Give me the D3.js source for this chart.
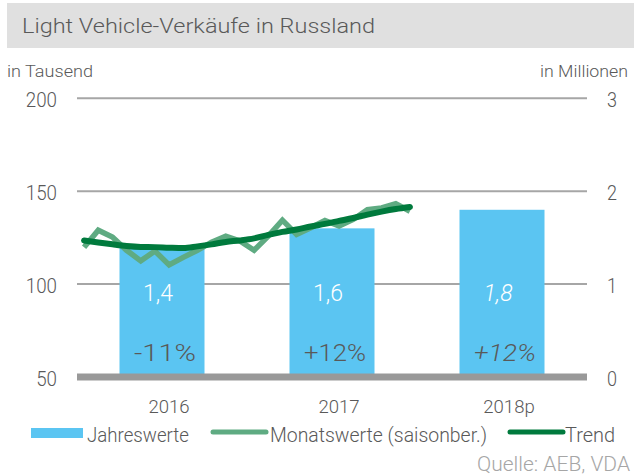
<!DOCTYPE html>
<html lang="de">
<head>
<meta charset="UTF-8">
<title>Light Vehicle-Verkäufe in Russland</title>
<style>
  body { margin: 0; background: #fff; }
  svg { display: block; font-family: Roboto, "Liberation Sans", sans-serif; font-weight: 300; }
</style>
</head>
<body>
<div id="chart"></div>
<script src="https://cdn.jsdelivr.net/npm/d3@7"></script>
<script>
// Jahreswerte (Mio.) und Veränderung
const years = ["2016", "2017", "2018p"];
const yearValues = [1.4, 1.6, 1.8];
const yearLabels = ["1,4", "1,6", "1,8"];
const changeLabels = ["-11%", "+12%", "+12%"];
const forecast = [false, false, true];

// Monatswerte saisonbereinigt (Tsd.), Jan 2016 - Dez 2017
const monthly = [119.8, 129.0, 125.3, 118.2, 112.5, 117.8, 110.3, 114.4, 118.2, 122.6, 125.8, 123.2,
                 118.2, 125.8, 134.4, 126.7, 130.3, 134.2, 131.2, 134.8, 140.1, 141.0, 143.3, 139.2];
const trend = [123.5, 122.4, 121.4, 120.5, 120.0, 119.9, 119.6, 119.4, 120.3, 121.4, 122.7, 123.5,
               124.6, 126.5, 128.1, 129.4, 131.0, 132.4, 134.0, 135.6, 137.4, 139.0, 140.4, 141.5];

const leftTicks = [50, 100, 150, 200];
const rightTicks = [0, 1, 2, 3];

const W = 635, H = 475;
const textCol = "#595959";

const svg = d3.select("#chart").append("svg")
  .attr("width", W).attr("height", H);

// Text mit fester Breite (schmale Schrift im Original)
function label(x, y, txt, size, width, anchor) {
  return svg.append("text").attr("x", x).attr("y", y)
    .attr("font-size", size).attr("fill", textCol)
    .attr("text-anchor", anchor || "start")
    .attr("textLength", width).attr("lengthAdjust", "spacingAndGlyphs")
    .text(txt);
}

// Titelbalken
svg.append("rect").attr("x", 7).attr("y", 3).attr("width", 627).attr("height", 45).attr("fill", "#e0e0e0");
label(22, 33, "Light Vehicle-Verkäufe in Russland", 21, 353);

const x0 = 77, x1 = 587;
const x = d3.scaleBand().domain(years).range([x0, x1]).paddingInner(0.5).paddingOuter(0.25);
const yL = d3.scaleLinear().domain([50, 200]).range([377, 98.3]);
const yR = d3.scaleLinear().domain([0, 3]).range([377, 98.3]);

// Monatsskala innerhalb der ersten zwei Jahre
const step = (x1 - x0) / years.length;
const xm = d3.scaleLinear().domain([0, 12]).range([x0, x0 + step]);

// Achsentitel
label(7, 77, "in Tausend", 16, 86);
label(628, 77, "in Millionen", 16, 88, "end");

// Gitterlinien
svg.selectAll(".grid").data(leftTicks.filter(d => d > 50)).enter().append("line")
  .attr("x1", x0).attr("x2", x1)
  .attr("y1", d => yL(d)).attr("y2", d => yL(d))
  .attr("stroke", "#a6a6a6").attr("stroke-width", 2);

// Balken
svg.selectAll(".bar").data(yearValues).enter().append("rect")
  .attr("x", (d, i) => x(years[i]))
  .attr("width", x.bandwidth())
  .attr("y", d => yR(d))
  .attr("height", d => yR(0) - yR(d))
  .attr("fill", "#5bc5f2");

// Grundlinie
svg.append("line").attr("x1", x0).attr("x2", x1).attr("y1", yL(50)).attr("y2", yL(50))
  .attr("stroke", "#999999").attr("stroke-width", 7);

// Achsenbeschriftung links/rechts
svg.selectAll(".lt").data(leftTicks).enter().append("text")
  .attr("x", 57).attr("y", d => yL(d) + 9).attr("text-anchor", "end")
  .attr("font-size", 20).attr("fill", textCol)
  .attr("textLength", d => String(d).length * 10.4).attr("lengthAdjust", "spacingAndGlyphs")
  .text(d => d);
svg.selectAll(".rt").data(rightTicks).enter().append("text")
  .attr("x", 607).attr("y", d => yR(d) + 9)
  .attr("font-size", 20).attr("fill", textCol)
  .attr("textLength", 10).attr("lengthAdjust", "spacingAndGlyphs")
  .text(d => d);

// Jahresbeschriftung
svg.selectAll(".xl").data(years).enter().append("text")
  .attr("x", d => x(d) + x.bandwidth() / 2 + 7).attr("y", 413)
  .attr("text-anchor", "middle").attr("font-size", 19).attr("fill", textCol)
  .attr("textLength", d => d.length * 10.3).attr("lengthAdjust", "spacingAndGlyphs")
  .text(d => d);

// Werte in den Balken
svg.selectAll(".bv").data(yearLabels).enter().append("text")
  .attr("x", (d, i) => x(years[i]) + x.bandwidth() / 2 - 4).attr("y", 301)
  .attr("text-anchor", "middle").attr("font-size", 23).attr("fill", "#fff")
  .attr("font-style", (d, i) => forecast[i] ? "italic" : "normal").text(d => d);
svg.selectAll(".bc").data(changeLabels).enter().append("text")
  .attr("x", (d, i) => x(years[i]) + x.bandwidth() / 2 + 3).attr("y", 361)
  .attr("text-anchor", "middle").attr("font-size", 24).attr("fill", textCol)
  .attr("textLength", 62).attr("lengthAdjust", "spacingAndGlyphs")
  .attr("font-style", (d, i) => forecast[i] ? "italic" : "normal").text(d => d);

// Linien
const line = d3.line().x((d, i) => xm(i + 0.5)).y(d => yL(d));
svg.append("path").datum(monthly).attr("d", line).attr("fill", "none")
  .attr("stroke", "#5fab82").attr("stroke-width", 5.5).attr("stroke-linejoin", "miter");
svg.append("path").datum(trend).attr("d", line.curve(d3.curveMonotoneX)).attr("fill", "none")
  .attr("stroke", "#007a3d").attr("stroke-width", 6).attr("stroke-linecap", "round");

// Legende
svg.append("rect").attr("x", 31).attr("y", 428).attr("width", 52).attr("height", 10).attr("fill", "#5bc5f2");
label(87, 442, "Jahreswerte", 20, 102);
svg.append("line").attr("x1", 213).attr("x2", 266).attr("y1", 432).attr("y2", 432)
  .attr("stroke", "#5fab82").attr("stroke-width", 5).attr("stroke-linecap", "round");
label(270, 442, "Monatswerte (saisonber.)", 20, 217);
svg.append("line").attr("x1", 510).attr("x2", 563).attr("y1", 432).attr("y2", 432)
  .attr("stroke", "#007a3d").attr("stroke-width", 5).attr("stroke-linecap", "round");
label(565, 442, "Trend", 20, 50);

label(630, 471, "Quelle: AEB, VDA", 20, 153, "end").attr("fill", "#a6a6a6");
</script>
</body>
</html>
